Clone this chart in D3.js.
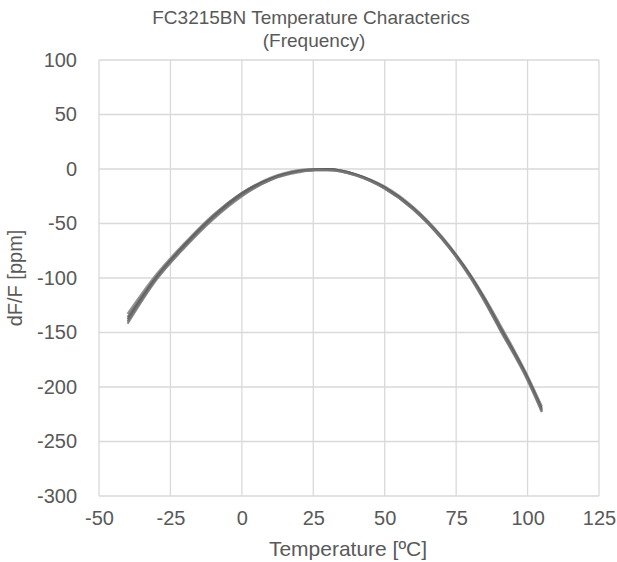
<!DOCTYPE html>
<html>
<head>
<meta charset="utf-8">
<script src="https://cdn.jsdelivr.net/npm/d3@7"></script>
<style>
  body { margin: 0; background: #fff; }
  text { font-family: "Liberation Sans", Arial, sans-serif; fill: #595959; }
</style>
</head>
<body>
<script>
// temperatures (ºC)
var temps = [-40, -30, -20, -10, 0, 10, 20, 25, 30, 40, 50, 60, 70, 80, 85, 90, 100, 105];
// dF/F (ppm) for each sample
var sample1 = [-133, -97, -68, -42, -22, -8, -1, 0, 0, -5, -16, -35, -62, -97, -118, -141, -190, -218];
var sample2 = [-136, -99, -69, -43, -22, -9, -2, 0, 0, -5, -17, -36, -63, -98, -119, -143, -191, -220];
var sample3 = [-138, -100, -70, -44, -23, -9, -2, -1, 0, -5, -17, -36, -63, -98, -120, -144, -192, -221];
var sample4 = [-140, -101, -71, -45, -24, -10, -2, -1, -1, -6, -18, -37, -64, -99, -121, -145, -193, -222];
var sample5 = [-142, -102, -72, -46, -25, -10, -3, -1, -1, -6, -18, -37, -64, -100, -122, -146, -194, -223];
var samples = [sample1, sample2, sample3, sample4, sample5];

var xTicks = [-50, -25, 0, 25, 50, 75, 100, 125];
var yTicks = [100, 50, 0, -50, -100, -150, -200, -250, -300];

var width = 617, height = 562;
var margin = {left: 99, right: 18, top: 60, bottom: 66};

var svg = d3.select("body").append("svg")
    .attr("width", width)
    .attr("height", height);

var x = d3.scaleLinear().domain([-50, 125]).range([margin.left, width - margin.right]);
var y = d3.scaleLinear().domain([-300, 100]).range([height - margin.bottom, margin.top]);

// grid
svg.append("g").selectAll("line").data(xTicks).enter().append("line")
    .attr("x1", function(d) { return x(d); })
    .attr("x2", function(d) { return x(d); })
    .attr("y1", y(100)).attr("y2", y(-300))
    .attr("stroke", "#d9d9d9").attr("stroke-width", 1.3);

svg.append("g").selectAll("line").data(yTicks).enter().append("line")
    .attr("x1", x(-50)).attr("x2", x(125))
    .attr("y1", function(d) { return y(d); })
    .attr("y2", function(d) { return y(d); })
    .attr("stroke", "#d9d9d9").attr("stroke-width", 1.3);

// axes (labels only), plain hyphen minus like the original
var xAxis = svg.append("g")
    .attr("transform", "translate(0," + y(-300) + ")")
    .call(d3.axisBottom(x).tickValues(xTicks).tickFormat(String).tickSize(0).tickPadding(15));
var yAxis = svg.append("g")
    .attr("transform", "translate(" + x(-50) + ",0)")
    .call(d3.axisLeft(y).tickValues(yTicks).tickFormat(String).tickSize(0).tickPadding(22));
[xAxis, yAxis].forEach(function(a) {
  a.select(".domain").remove();
  a.selectAll("text").style("font-size", "20px").attr("fill", "#595959")
    .style("font-family", "'Liberation Sans', Arial, sans-serif");
});

// curves
var line = d3.line()
    .x(function(d, i) { return x(temps[i]); })
    .y(function(d) { return y(d); })
    .curve(d3.curveMonotoneX);

var greys = ["#7f7f7f", "#6b6b6b", "#5a5a5a", "#666666", "#767676"];
svg.append("g").selectAll("path").data(samples).enter().append("path")
    .attr("d", line)
    .attr("fill", "none")
    .attr("stroke", function(d, i) { return greys[i]; })
    .attr("stroke-width", 2.2)
    .attr("stroke-opacity", 0.85);

// titles
svg.append("text").attr("x", 311).attr("y", 24).attr("text-anchor", "middle")
    .style("font-size", "19px").text("FC3215BN Temperature Characterics");
svg.append("text").attr("x", 314).attr("y", 47).attr("text-anchor", "middle")
    .style("font-size", "19px").text("(Frequency)");

svg.append("text").attr("x", 348).attr("y", 556).attr("text-anchor", "middle")
    .style("font-size", "21px").text("Temperature [ºC]");
svg.append("text")
    .attr("transform", "translate(22," + y(-100) + ") rotate(-90)")
    .attr("text-anchor", "middle")
    .style("font-size", "20px").text("dF/F [ppm]");
</script>
</body>
</html>
